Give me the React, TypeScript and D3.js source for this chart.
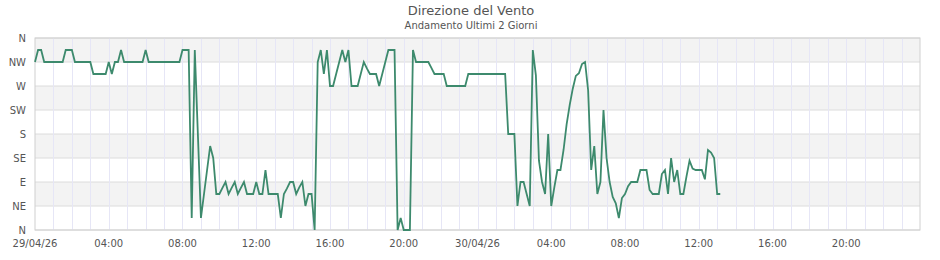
import React from "react";
import * as d3 from "d3";

// ---- Data ----
const title = "Direzione del Vento";
const subtitle = "Andamento Ultimi 2 Giorni";
const startTime = new Date(2026, 3, 29, 0, 0);
const endTime = new Date(2026, 4, 1, 0, 0);
const stepMinutes = 10;
const yTickValues = [0, 45, 90, 135, 180, 225, 270, 315, 360];
const yTickLabels = ["N", "NE", "E", "SE", "S", "SW", "W", "NW", "N"];

// wind direction in degrees, one reading every 10 minutes from 29/04 00:00
const directions: number[] = [
  315, 337.5, 337.5, 315, 315, 315, 315, 315, 315, 315,
  337.5, 337.5, 337.5, 315, 315, 315, 315, 315, 315, 292.5,
  292.5, 292.5, 292.5, 292.5, 315, 292.5, 315, 315, 337.5, 315,
  315, 315, 315, 315, 315, 315, 337.5, 315, 315, 315,
  315, 315, 315, 315, 315, 315, 315, 315, 337.5, 337.5,
  337.5, 22.5, 337.5, 180, 22.5, 67.5, 112.5, 157.5, 135, 67.5,
  67.5, 79, 90, 67.5, 79, 90, 67.5, 79, 90, 67.5,
  67.5, 67.5, 90, 67.5, 67.5, 112.5, 67.5, 67.5, 67.5, 67.5,
  22.5, 67.5, 78, 90, 90, 67.5, 80, 90, 45, 67.5,
  67.5, 0, 315, 337.5, 292.5, 337.5, 270, 270, 292.5, 315,
  337.5, 315, 337.5, 270, 270, 270, 292.5, 315, 303, 292.5,
  292.5, 292.5, 270, 292.5, 315, 337.5, 337.5, 337.5, 0, 22.5,
  0, 0, 0, 337.5, 315, 315, 315, 315, 315, 304,
  292.5, 292.5, 292.5, 292.5, 270, 270, 270, 270, 270, 270,
  270, 292.5, 292.5, 292.5, 292.5, 292.5, 292.5, 292.5, 292.5, 292.5,
  292.5, 292.5, 292.5, 292.5, 180, 180, 180, 45, 90, 90,
  67.5, 45, 337.5, 290, 130, 90, 67.5, 180, 45, 80,
  112.5, 112.5, 150, 198, 234, 265, 289, 294, 311, 315,
  262, 112.5, 157.5, 67.5, 90, 225, 135, 90, 62, 50,
  22.5, 60, 67.5, 82, 90, 90, 90, 112.5, 112.5, 112.5,
  75, 67.5, 67.5, 67.5, 105, 112.5, 67.5, 135, 90, 112.5,
  67.5, 67.5, 100, 130, 115, 112.5, 112.5, 112.5, 95, 150,
  145, 135, 67.5, 67.5,
];

const W = 940;
const H = 260;
const M = { left: 35, right: 20, top: 38, bottom: 30 };
const FONT = "'DejaVu Sans', sans-serif";

export default function App() {
  const x = d3.scaleTime().domain([startTime, endTime]).range([M.left, W - M.right]);
  const y = d3.scaleLinear().domain([0, 360]).range([H - M.bottom, M.top]);

  const timeAt = (i: number) => d3.timeMinute.offset(startTime, i * stepMinutes);
  const line = d3
    .line<number>()
    .x((_, i) => x(timeAt(i)))
    .y((d) => y(d));

  const hourLines = d3.timeHour.range(d3.timeHour.offset(startTime, 1), endTime);
  const labelTicks = d3.timeHour.every(4)!.range(startTime, endTime);
  const fmtDate = d3.timeFormat("%d/%m/%y");
  const fmtHour = d3.timeFormat("%H:%M");

  const bands = yTickValues.slice(0, -1).map((v, i) => ({ lo: v, hi: yTickValues[i + 1], idx: i }));
  const x0 = M.left;
  const x1 = W - M.right;

  return (
    <svg
      width={W}
      height={H}
      style={{ position: "absolute", left: 0, top: 0, background: "#fff" }}
      fontFamily={FONT}
    >
      <text x={471} y={15} textAnchor="middle" fontSize={13} fill="#555">
        {title}
      </text>
      <text x={471} y={29} textAnchor="middle" fontSize={10} fill="#555">
        {subtitle}
      </text>

      {/* alternating bands */}
      {bands.map((b) =>
        b.idx % 2 === 1 ? (
          <rect key={"b" + b.idx} x={x0} y={y(b.hi)} width={x1 - x0} height={y(b.lo) - y(b.hi)} fill="#f3f3f3" />
        ) : null
      )}

      {/* horizontal grid */}
      {yTickValues.map((v) => (
        <line key={"h" + v} x1={x0} x2={x1} y1={y(v)} y2={y(v)} stroke="#dcdcdc" strokeWidth={1} />
      ))}

      {/* vertical hourly grid */}
      {hourLines.map((t) => (
        <line
          key={"v" + t.getTime()}
          x1={Math.round(x(t)) + 0.5}
          x2={Math.round(x(t)) + 0.5}
          y1={M.top}
          y2={H - M.bottom}
          stroke="#e6e6f6"
          strokeWidth={1}
        />
      ))}

      {/* frame */}
      <rect x={x0} y={M.top} width={x1 - x0} height={H - M.bottom - M.top} fill="none" stroke="#d0d0d0" strokeWidth={1} />

      {/* y labels */}
      {yTickValues.map((v, i) => (
        <text key={"yl" + i} x={26} y={y(v)} dy="0.35em" textAnchor="end" fontSize={10} fill="#555">
          {yTickLabels[i]}
        </text>
      ))}

      {/* x labels */}
      {labelTicks.map((t) => (
        <text key={"xl" + t.getTime()} x={x(t)} y={247} textAnchor="middle" fontSize={10} fill="#555">
          {t.getHours() === 0 ? fmtDate(t) : fmtHour(t)}
        </text>
      ))}

      <path d={line(directions) || ""} fill="none" stroke="#3d8a6d" strokeWidth={1.8} strokeLinejoin="miter" />
    </svg>
  );
}
